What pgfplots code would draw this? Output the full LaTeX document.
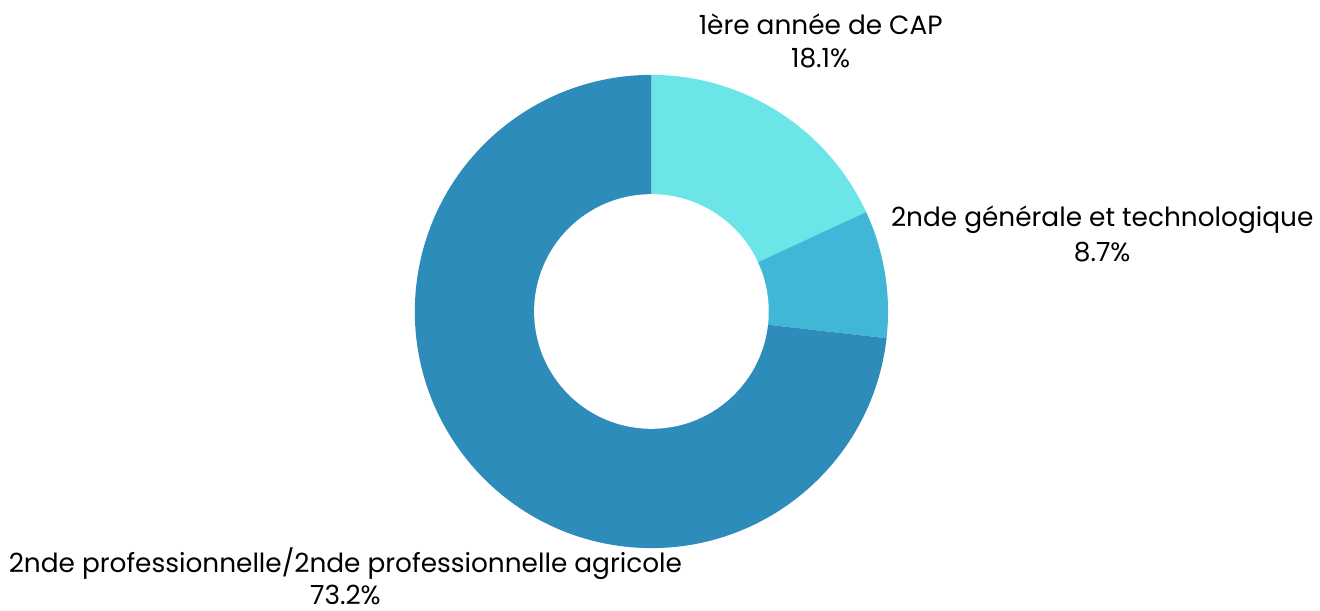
\documentclass[border=0pt]{standalone}
\usepackage{pgfplots}
\pgfplotsset{compat=1.18}
\usepackage{fontspec}
\setmainfont{Poppins}
\usetikzlibrary{calc}
\definecolor{cA}{HTML}{6BE5E8}
\definecolor{cB}{HTML}{41B6D6}
\definecolor{cC}{HTML}{2E8CBA}
% shares in percent
\def\vA{18.1}
\def\vB{8.7}
\def\vC{73.2}
\begin{document}
\begin{tikzpicture}
\begin{axis}[
  width=660pt, height=305pt, scale only axis,
  xmin=0, xmax=1320, ymin=0, ymax=610,
  hide axis, clip=false,
]
\path (axis cs:0,0) rectangle (axis cs:1320,610);
\coordinate (c) at (axis cs:652.5,298);
\pgfmathsetmacro\aA{90}
\pgfmathsetmacro\aB{90-\vA*3.6}
\pgfmathsetmacro\aC{\aB-\vB*3.6}
\pgfmathsetmacro\aD{\aC-\vC*3.6}
\fill[cA] (c) -- ($(c)+(\aA:118.5pt)$) arc[start angle=\aA, end angle=\aB, radius=118.5pt] -- cycle;
\fill[cB] (c) -- ($(c)+(\aB:118.5pt)$) arc[start angle=\aB, end angle=\aC, radius=118.5pt] -- cycle;
\fill[cC] (c) -- ($(c)+(\aC:118.5pt)$) arc[start angle=\aC, end angle=\aD, radius=118.5pt] -- cycle;
\fill[white] (c) circle[radius=58.75pt];
\path[font=\fontsize{13.2}{15}\selectfont]
  (axis cs:822,575) node[anchor=base] {1ère année de CAP}
  (axis cs:822,542) node[anchor=base] {18.1\%}
  (axis cs:1104,383) node[anchor=base] {2nde générale et technologique}
  (axis cs:1104,348) node[anchor=base] {8.7\%}
  (axis cs:346,37) node[anchor=base] {2nde professionnelle/2nde professionnelle agricole}
  (axis cs:346,5) node[anchor=base] {73.2\%};
\end{axis}
\end{tikzpicture}
\end{document}
